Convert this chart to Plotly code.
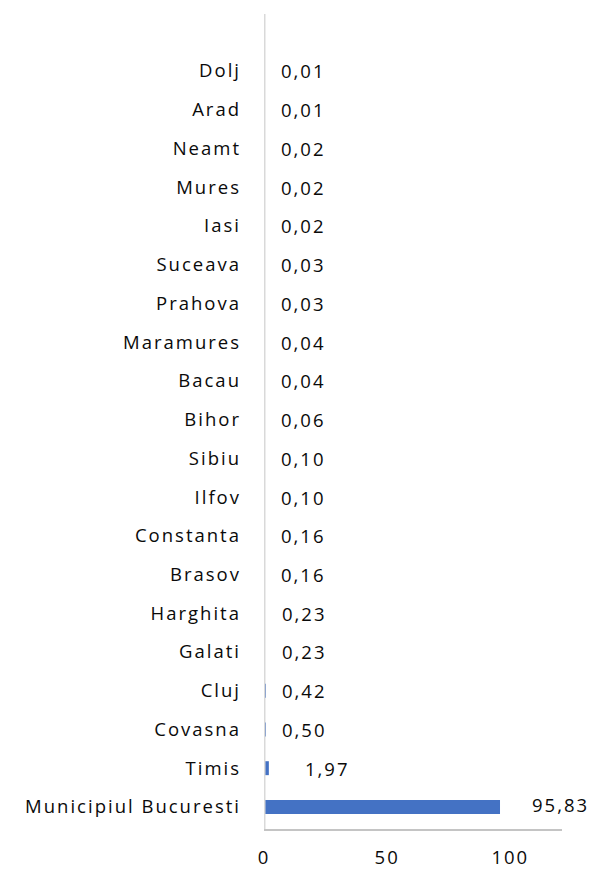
import plotly.graph_objects as go

# Share by county (%), listed bottom to top
counties = [
    "Municipiul Bucuresti", "Timis", "Covasna", "Cluj", "Galati", "Harghita",
    "Brasov", "Constanta", "Ilfov", "Sibiu", "Bihor", "Bacau", "Maramures",
    "Prahova", "Suceava", "Iasi", "Mures", "Neamt", "Arad", "Dolj",
]
values = [
    95.83, 1.97, 0.50, 0.42, 0.23, 0.23, 0.16, 0.16, 0.10, 0.10,
    0.06, 0.04, 0.04, 0.03, 0.03, 0.02, 0.02, 0.02, 0.01, 0.01,
]
x_ticks = [0, 50, 100]

FONT = "Open Sans"
FONT_SIZE = 18.5
TEXT_COLOR = "#0a0a0a"
BAR_COLOR = "#4472C4"

fig = go.Figure(
    go.Bar(
        x=values,
        y=list(range(len(counties))),
        orientation="h",
        width=0.36,
        marker=dict(color=BAR_COLOR, line=dict(width=0)),
        hoverinfo="x+y",
    )
)

# category axis line drawn at x=0, on top of the bars
fig.add_shape(
    type="line", xref="x", yref="paper", x0=0, x1=0, y0=0, y1=1,
    line=dict(color="#d9d9d9", width=3), layer="above",
)

# value labels, with decimal comma
label_shift = {0: 30, 1: 34}
for i, v in enumerate(values):
    fig.add_annotation(
        x=v, y=i, xref="x", yref="y",
        text=f"{v:.2f}".replace(".", ","),
        showarrow=False, xanchor="left", yanchor="middle", align="left",
        xshift=label_shift.get(i, 15),
        yshift=2 if i == 0 else 0,
        font=dict(family=FONT, size=FONT_SIZE, color=TEXT_COLOR),
    )

fig.update_layout(
    width=591, height=869,
    margin=dict(l=264, r=29, t=14, b=40),
    paper_bgcolor="white", plot_bgcolor="white",
    showlegend=False,
    font=dict(family=FONT, size=FONT_SIZE, color=TEXT_COLOR),
    xaxis=dict(
        range=[0, 121],
        tickvals=x_ticks,
        ticktext=[str(t) for t in x_ticks],
        showgrid=False, zeroline=False,
        showline=True, linecolor="#c4c4c4", linewidth=2,
        ticks="", ticklabelstandoff=11,
        automargin=False,
        tickfont=dict(family=FONT, size=FONT_SIZE, color=TEXT_COLOR),
        fixedrange=True,
    ),
    yaxis=dict(
        range=[-0.57, 20.47],
        tickvals=list(range(len(counties))),
        ticktext=counties,
        showgrid=False, zeroline=False, showline=False,
        ticks="", ticklabelstandoff=22,
        automargin=False,
        tickfont=dict(family=FONT, size=FONT_SIZE, color=TEXT_COLOR),
        fixedrange=True,
    ),
)

# slightly open letter spacing for all chart text
spacing_js = """
var gd = document.getElementById('{plot_id}');
gd.querySelectorAll('.xtick text, .ytick text, .annotation-text').forEach(function (t) {
    t.style.letterSpacing = '2px';
});
"""

fig.write_html("out.html", post_script=spacing_js)
